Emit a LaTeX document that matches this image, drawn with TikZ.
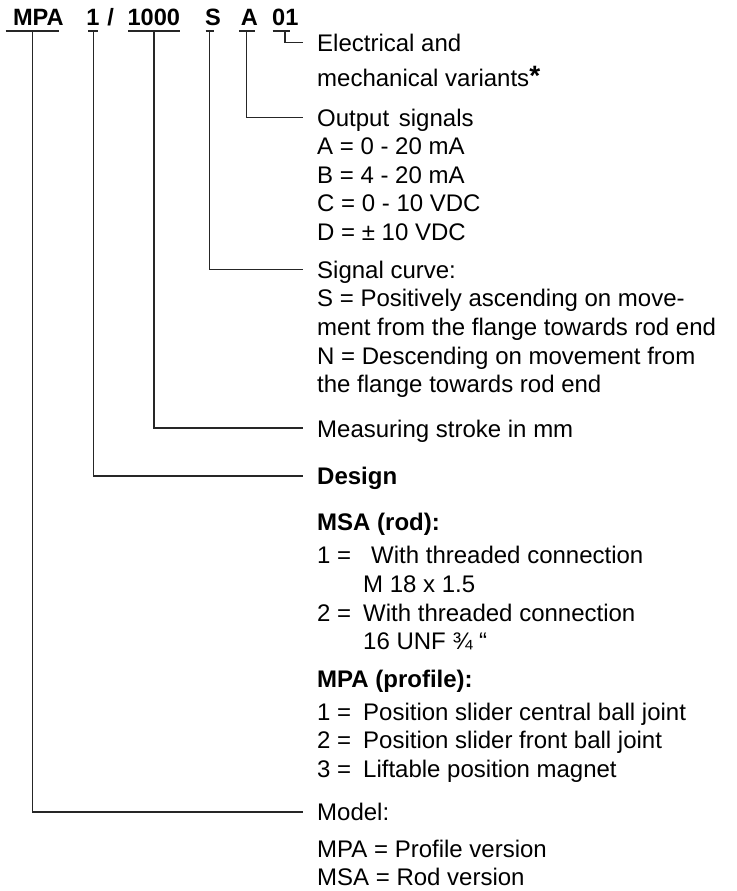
\documentclass[tikz,border=0pt]{standalone}
\usepackage{fontspec}
\setmainfont{Liberation Sans}
\begin{document}
\begin{tikzpicture}[x=1pt,y=-1pt,
  txt/.style={anchor=base west, inner sep=0pt, font=\fontsize{24}{29}\selectfont},
  btxt/.style={txt, font=\fontsize{24}{29}\selectfont\bfseries},
  hdr/.style={anchor=base, inner sep=0pt, font=\fontsize{23.6}{28}\selectfont\bfseries},
  conn/.style={draw=black!85, line width=1.1pt},
  uline/.style={draw=black!85, line width=1.1pt}]
\useasboundingbox (0,0) rectangle (736,891);
% header
\node[hdr] (hMPA) at (38.4,26) {MPA};
\node[hdr] (h1) at (93,26) {1};
\node[hdr] (hslash) at (110.7,26) {/};
\node[hdr] (h1000) at (153.8,26) {1000};
\node[hdr] (hS) at (213,26) {S};
\node[hdr] (hA) at (249.3,26) {A};
\node[hdr] (h01) at (285.3,26) {01};
% underlines
\draw[uline] (5.7,31) -- (59.3,31);
\draw[uline] (88.3,31) -- (98.3,31);
\draw[uline] (128,31) -- (180,31);
\draw[uline] (205.7,31) -- (214,31);
\draw[uline] (239.3,31) -- (255.3,31);
\draw[uline] (272.7,31) -- (290,31);
% connector tops
\coordinate (tMPA) at (32.4,31);
\coordinate (t1) at (93.3,31);
\coordinate (t1000) at (154,31);
\coordinate (tS) at (209.3,31);
\coordinate (tA) at (246.7,31);
\coordinate (t01) at (285,31);
% connector ends
\coordinate (e01) at (303,42.3);
\coordinate (eA) at (303,117.7);
\coordinate (eS) at (303,269.7);
\coordinate (e1000) at (303,428);
\coordinate (e1) at (303,476);
\coordinate (eMPA) at (303,812);
\draw[conn] (t01) |- (e01);
\draw[conn] (tA) |- (eA);
\draw[conn] (tS) |- (eS);
\draw[conn] (t1000) |- (e1000);
\draw[conn] (t1) |- (e1);
\draw[conn] (tMPA) |- (eMPA);
% texts
\node[txt] (elec1) at (317,52) {Electrical and};
\node[txt] (elec2) at (317,86.7) {mechanical variants{\fontsize{28}{29}\selectfont\bfseries\raisebox{1pt}{*}}};
\node[txt] (out) at (317,126) {Output\hspace{3pt} signals};
\node[txt] (outA) at (317,154.5) {A = 0 - 20 mA};
\node[txt] (outB) at (317,183) {B = 4 - 20 mA};
\node[txt] (outC) at (317,211.8) {C = 0 - 10 VDC};
\node[txt] (outD) at (317,240.5) {D = ± 10 VDC};
\node[txt] (sig) at (317,278) {Signal curve:};
\node[txt] (sig1) at (317,306.7) {S = Positively ascending on move-};
\node[txt] (sig2) at (317,335.3) {ment from the flange towards rod end};
\node[txt] (sig3) at (317,364) {N = Descending on movement from};
\node[txt] (sig4) at (317,392.6) {the flange towards rod end};
\node[txt] (meas) at (317,437) {Measuring stroke in mm};
\node[btxt] (design) at (317,484) {Design};
\node[btxt] (msa) at (317,530) {MSA (rod):};
\node[txt] (msa1) at (317,563) {\makebox[46pt][l]{1 =}\hspace{8pt}With threaded connection};
\node[txt] (msa1b) at (317,592) {\hspace*{46pt}M 18 x 1.5};
\node[txt] (msa2) at (317,621) {\makebox[46pt][l]{2 =}With threaded connection};
\node[txt] (msa2b) at (317,649) {\hspace*{46pt}16 UNF ¾ “};
\node[btxt] (mpa) at (317,687) {MPA (profile):};
\node[txt] (mpa1) at (317,720) {\makebox[46pt][l]{1 =}Position slider central ball joint};
\node[txt] (mpa2) at (317,748) {\makebox[46pt][l]{2 =}Position slider front ball joint};
\node[txt] (mpa3) at (317,777) {\makebox[46pt][l]{3 =}Liftable position magnet};
\node[txt] (model) at (317,820) {Model:};
\node[txt] (model1) at (317,857) {MPA = Profile version};
\node[txt] (model2) at (317,885) {MSA = Rod version};
\end{tikzpicture}
\end{document}
